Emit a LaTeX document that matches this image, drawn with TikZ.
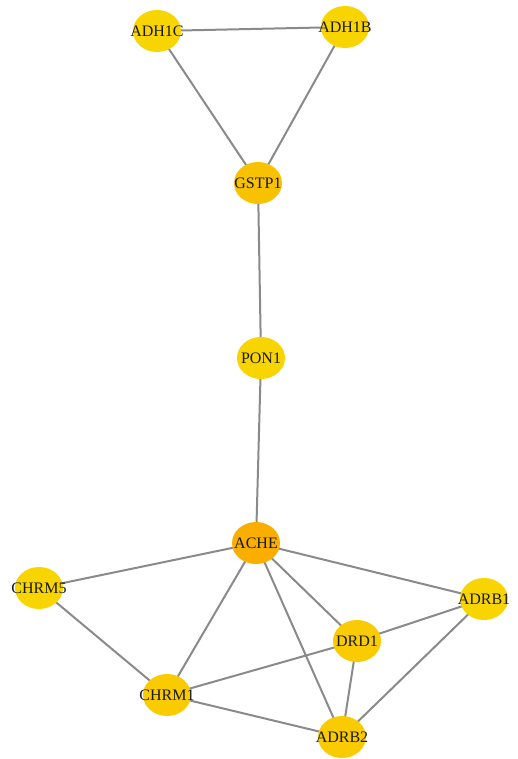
\documentclass[tikz,border=0pt]{standalone}
\usepackage{fontspec}
\setmainfont{Liberation Serif}
\usetikzlibrary{backgrounds,shapes.geometric}
\definecolor{goldA}{HTML}{F8D500}
\definecolor{goldB}{HTML}{F9CB00}
\definecolor{goldC}{HTML}{F8C200}
\definecolor{achec}{HTML}{F9AE00}
\definecolor{edgec}{HTML}{8A8A8A}
\tikzset{
  gene/.style={ellipse, minimum width=48pt, minimum height=42pt, inner sep=0pt, fill=#1, draw=none},
  lbl/.style={font=\fontsize{16}{17}\selectfont, text=black!90},
  link/.style={draw=edgec, line width=2pt},
}
\begin{document}
\begin{tikzpicture}[x=1pt,y=-1pt]
\useasboundingbox (0,0) rectangle (517,759);
\node[gene=goldA] (adh1c) at (157,31) {};
\node[gene=goldA] (adh1b) at (345,27) {};
\node[gene=goldC] (gstp1) at (258,183) {};
\node[gene=goldA] (pon1) at (261,358) {};
\node[gene=achec] (ache) at (256,543) {};
\node[gene=goldA] (chrm5) at (39,588) {};
\node[gene=goldA] (adrb1) at (484,599) {};
\node[gene=goldB] (drd1) at (357,641) {};
\node[gene=goldB] (chrm1) at (167,695) {};
\node[gene=goldB] (adrb2) at (342,737) {};
\begin{pgfonlayer}{background}
\foreach \a/\b in {adh1c/adh1b, adh1c/gstp1, adh1b/gstp1, gstp1/pon1, pon1/ache,
  ache/chrm5, ache/chrm1, ache/drd1, ache/adrb2, ache/adrb1, chrm5/chrm1,
  chrm1/drd1, chrm1/adrb2, drd1/adrb1, drd1/adrb2, adrb1/adrb2}
  \draw[link] (\a.center) -- (\b.center);
\end{pgfonlayer}
\node[lbl] at (adh1c) {ADH1C};
\node[lbl] at (adh1b) {ADH1B};
\node[lbl] at (gstp1) {GSTP1};
\node[lbl] at (pon1) {PON1};
\node[lbl] at (ache) {ACHE};
\node[lbl] at (chrm5) {CHRM5};
\node[lbl] at (adrb1) {ADRB1};
\node[lbl] at (drd1) {DRD1};
\node[lbl] at (chrm1) {CHRM1};
\node[lbl] at (adrb2) {ADRB2};
\end{tikzpicture}
\end{document}
